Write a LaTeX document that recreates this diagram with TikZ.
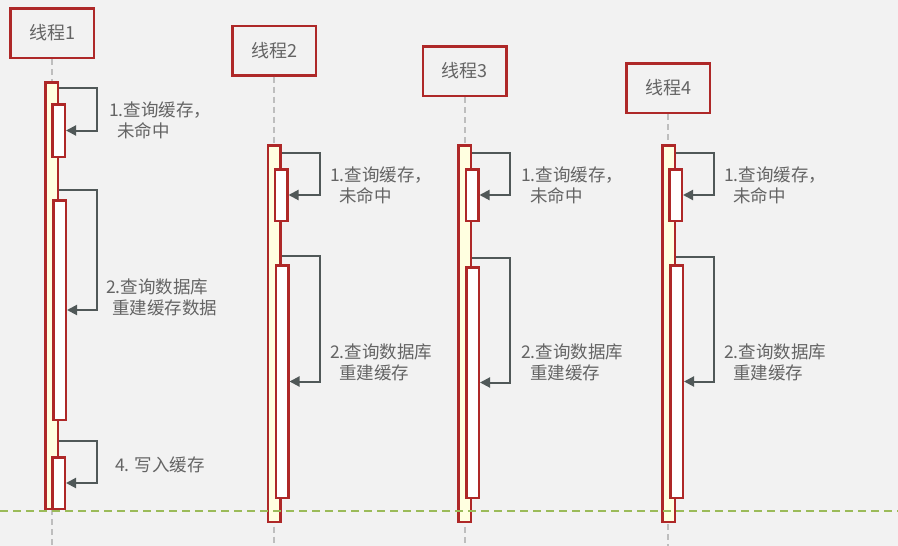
\documentclass[tikz,border=0pt]{standalone}
\usepackage{fontspec}
\setmainfont{Noto Sans CJK SC}
\usetikzlibrary{arrows.meta, positioning, calc}
\definecolor{bgcol}{HTML}{F2F2F2}
\definecolor{boxred}{HTML}{AE2828}
\definecolor{barfill}{HTML}{FFFFE0}
\definecolor{msggray}{HTML}{505858}
\definecolor{lifegray}{HTML}{BEBEBE}
\definecolor{notetext}{HTML}{646464}
\definecolor{sepgreen}{HTML}{9BBB59}
\tikzset{
  head/.style={draw=boxred, line width=2.5pt, minimum width=83.5pt, minimum height=49.5pt,
    inner sep=0pt, text=notetext, font=\fontsize{18}{18}\selectfont},
  bar/.style={draw=boxred, line width=2.5pt, fill=barfill, minimum width=12.5pt, inner sep=0pt},
  subbar/.style={bar, fill=white},
  life/.style={lifegray, line width=2pt, dash pattern=on 6pt off 4pt},
  msg/.style={msggray, line width=2pt, -{Triangle[length=10pt,width=10pt]}},
  note/.style={anchor=west, align=left, inner sep=0pt, text=notetext,
    font=\fontsize{17.5}{21}\selectfont},
  sepline/.style={sepgreen, line width=2.5pt, dash pattern=on 8pt off 5pt},
}
% header box with its dashed lifeline: name, x, y, text
\newcommand{\thread}[4]{%
  \node[head] (#1) at (#2,#3) {#4};
  \draw[life] (#1.south) -- (#1.south |- 0,546);%
}
% activation bar: name, x, top, bottom, style
\newcommand{\actbar}[5]{%
  \node[#5, minimum height={#4-#3-2.5}] (#1) at (#2,{(#3+#4)/2}) {};%
}
% self call from outer bar (at y) back into inner bar
\newcommand{\selfcall}[3]{%
  \draw[msg] (#1.east |- 0,#2) -- ++(38,0) |- (#3.east);%
}

\begin{document}
\begin{tikzpicture}[x=1pt, y=-1pt]
    \useasboundingbox (0,0) rectangle (898,546);
    \fill[bgcol] (0,0) rectangle (898,546);

    % 线程1
    \thread{t1}{52}{33}{线程1}
    \actbar{o1}{51.5}{81}{510}{bar}
    \actbar{a11}{58.5}{103}{158}{subbar}
    \actbar{a12}{59.5}{199}{421}{subbar}
    \actbar{a13}{58.5}{456}{510}{subbar}
    \selfcall{o1}{88}{a11}
    \selfcall{o1}{190}{a12}
    \selfcall{o1}{441}{a13}
    \node[note] (n11) at (109,120.5) {1.查询缓存，\\\hspace{8pt}未命中};
    \node[note] (n12) at (106,297.5) {2.查询数据库\\\hspace{6pt}重建缓存数据};
    \node[note] (n13) at (115,464.5) {4. 写入缓存};

    % 线程2
    \thread{t2}{274}{50.5}{线程2}
    \actbar{o2}{274}{144}{523}{bar}
    \actbar{a21}{281}{168}{222}{subbar}
    \actbar{a22}{282}{264}{499}{subbar}
    \selfcall{o2}{153}{a21}
    \selfcall{o2}{256}{a22}
    \node[note] (n21) at (330,185.5) {1.查询缓存，\\\hspace{9pt}未命中};
    \node[note] (n22) at (330,362.5) {2.查询数据库\\\hspace{9pt}重建缓存};

    % 线程3
    \thread{t3}{464.5}{71}{线程3}
    \actbar{o3}{464.5}{144}{523}{bar}
    \actbar{a31}{472}{168}{222}{subbar}
    \actbar{a32}{472.5}{266}{499}{subbar}
    \selfcall{o3}{153}{a31}
    \selfcall{o3}{258}{a32}
    \node[note] (n31) at (521,185.5) {1.查询缓存，\\\hspace{9pt}未命中};
    \node[note] (n32) at (521,362.5) {2.查询数据库\\\hspace{9pt}重建缓存};

    % 线程4
    \thread{t4}{668}{88}{线程4}
    \actbar{o4}{668.5}{144}{523}{bar}
    \actbar{a41}{675.5}{168}{222}{subbar}
    \actbar{a42}{676.5}{264}{499}{subbar}
    \selfcall{o4}{153}{a41}
    \selfcall{o4}{257}{a42}
    \node[note] (n41) at (724,185.5) {1.查询缓存，\\\hspace{9pt}未命中};
    \node[note] (n42) at (724,362.5) {2.查询数据库\\\hspace{9pt}重建缓存};

    % separator
    \coordinate (sepL) at (0,511);
    \coordinate (sepR) at (898,511);
    \draw[sepline] (sepL) -- (sepR);
\end{tikzpicture}
\end{document}
